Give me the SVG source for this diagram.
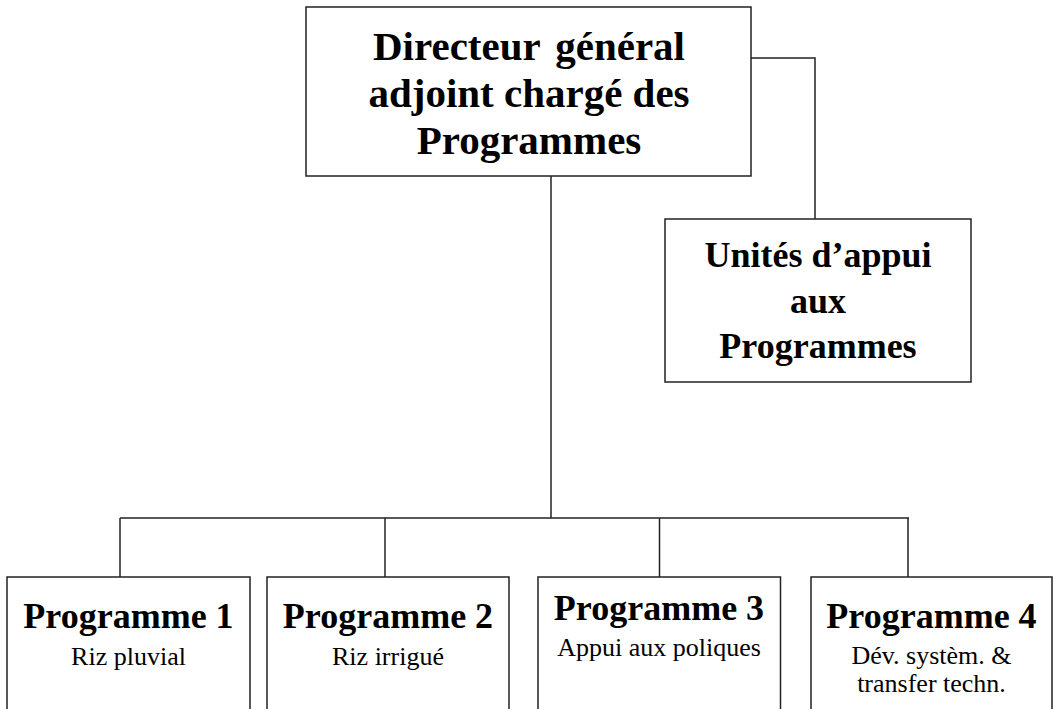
<svg xmlns="http://www.w3.org/2000/svg" width="1056" height="709" viewBox="0 0 1056 709">
<style>
.box{fill:#fff;stroke:#222;stroke-width:1.5}
.ln{fill:none;stroke:#222;stroke-width:1.5}
.t{font-family:"Liberation Serif","Times New Roman",serif;fill:#000;text-anchor:middle}
.b41{font-size:41px;font-weight:bold}
.b36{font-size:36px;font-weight:bold}
.r26{font-size:26px}
</style>
<rect width="1056" height="709" fill="#fff"/>
<g id="connectors">
<polyline class="ln" points="751,58 815,58 815,219"/>
<line class="ln" x1="551" y1="176" x2="551" y2="518"/>
<line class="ln" x1="120" y1="518" x2="909" y2="518"/>
<line class="ln" x1="120" y1="518" x2="120" y2="577"/>
<line class="ln" x1="385" y1="518" x2="385" y2="577"/>
<line class="ln" x1="659.5" y1="518" x2="659.5" y2="577"/>
<line class="ln" x1="908" y1="518" x2="908" y2="577"/>
</g>
<g id="dga">
<rect class="box" x="306" y="7" width="445" height="169"/>
<text class="t b41" x="529" y="60" word-spacing="5">Directeur général</text>
<text class="t b41" x="529" y="107">adjoint chargé des</text>
<text class="t b41" x="529" y="154">Programmes</text>
</g>
<g id="unites">
<rect class="box" x="665" y="219" width="306" height="163"/>
<text class="t b36" x="818" y="267">Unités d’appui</text>
<text class="t b36" x="818" y="313">aux</text>
<text class="t b36" x="818" y="358">Programmes</text>
</g>
<g id="prog1">
<rect class="box" x="7" y="577" width="243" height="150"/>
<text class="t b36" x="128.5" y="628">Programme 1</text>
<text class="t r26" x="128.5" y="665">Riz pluvial</text>
</g>
<g id="prog2">
<rect class="box" x="267" y="577" width="242" height="150"/>
<text class="t b36" x="388" y="628">Programme 2</text>
<text class="t r26" x="388" y="665">Riz irrigué</text>
</g>
<g id="prog3">
<rect class="box" x="538" y="577" width="242.5" height="150"/>
<text class="t b36" x="659" y="620">Programme 3</text>
<text class="t r26" x="659" y="656">Appui aux poliques</text>
</g>
<g id="prog4">
<rect class="box" x="811" y="577" width="241" height="150"/>
<text class="t b36" x="931.5" y="628">Programme 4</text>
<text class="t r26" x="931.5" y="664">Dév. systèm. &amp;</text>
<text class="t r26" x="931.5" y="692">transfer techn.</text>
</g>
</svg>
